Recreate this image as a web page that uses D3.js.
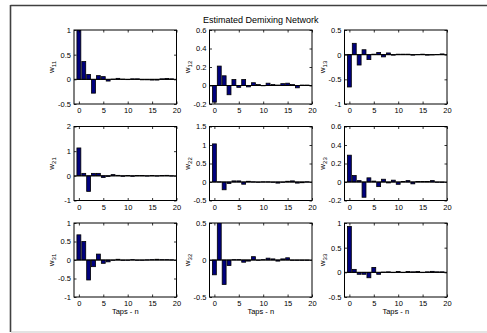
<!DOCTYPE html>
<html><head><meta charset="utf-8">
<script src="https://cdn.jsdelivr.net/npm/d3@7"></script>
<style>
body{margin:0;background:#fff}
svg{display:block}
text{font-family:Arial,"Liberation Sans",Helvetica,sans-serif;fill:#000}
</style>
</head><body>
<svg id="c" width="487" height="333"></svg>
<script>
// ---- data ----
const taps = [0,1,2,3,4,5,6,7,8,9,10,11,12,13,14,15,16,17,18,19];
const w11 = [1.0,0.36,0.10,-0.28,0.075,0.055,-0.035,0.005,0.02,0.005,-0.005,0.01,0.01,-0.01,-0.01,-0.015,-0.015,0.01,0.015,0.01];
const w12 = [-0.18,0.21,0.105,-0.10,0.065,-0.02,0.065,-0.015,0.03,0.01,0.0,0.025,0.01,0.005,0.02,0.025,0.01,-0.025,0.005,0.005];
const w13 = [-0.655,0.23,-0.21,0.10,-0.10,0.01,0.045,-0.045,0.035,-0.01,0.01,0.01,0.01,-0.01,0.005,0.01,-0.01,-0.005,0.005,0.015];
const w21 = [1.13,0.10,-0.63,0.10,0.10,-0.07,-0.03,0.05,0.02,-0.02,0.01,-0.02,0.01,0.01,-0.01,0.01,-0.01,0.01,0.02,-0.01];
const w22 = [1.03,0.005,-0.21,-0.04,0.03,0.03,-0.06,0.02,0.005,0.0,0.005,0.005,0.0,-0.03,0.0,0.02,0.03,-0.03,-0.02,0.005];
const w23 = [0.29,0.07,0.015,-0.165,0.045,0.01,-0.05,0.03,-0.01,0.02,-0.025,0.005,0.015,-0.02,0.005,0.005,0.005,0.015,0.0,-0.005];
const w31 = [0.68,0.50,-0.54,-0.18,0.16,-0.09,-0.05,0.0,0.02,-0.01,0.0,0.01,0.0,-0.005,0.005,0.01,0.02,0.01,0.01,0.005];
const w32 = [-0.20,0.52,-0.33,-0.075,0.005,0.005,-0.03,-0.015,0.045,0.0,0.005,0.025,0.015,-0.015,0.015,0.03,-0.005,-0.005,-0.005,-0.005];
const w33 = [0.93,0.06,-0.04,-0.04,-0.11,0.10,-0.04,0.005,0.01,0.0,0.015,-0.005,0.015,0.01,0.015,-0.005,0.01,0.02,0.01,0.01];

const seriesValues = [w11,w12,w13,w21,w22,w23,w31,w32,w33];
const seriesSubscripts = ["11","12","13","21","22","23","31","32","33"];
const yDomains = [[-0.5,1],[-0.2,0.6],[-1,0.5],[-1,2],[-0.5,1.5],[-0.2,0.6],[-1,1],[-0.5,0.5],[-0.5,1]];
const yTickValues = [
  [-0.5,0,0.5,1],[-0.2,0,0.2,0.4,0.6],[-1,-0.5,0,0.5],
  [-1,0,1,2],[-0.5,0,0.5,1,1.5],[-0.2,0,0.2,0.4,0.6],
  [-1,-0.5,0,0.5,1],[-0.5,0,0.5],[-0.5,0,0.5,1]
];
const xTickValues = [0,5,10,15,20];
const titleText = "Estimated Demixing Network";
const xLabelText = "Taps - n";

// ---- layout ----
const colLeft = [74, 209.5, 344.5];
const rowTop = [30, 126.5, 223];
const W = 102.5, H = 74;
const svg = d3.select("#c");

// outer frame
svg.append("line").attr("x1",10.5).attr("x2",487).attr("y1",5.5).attr("y2",5.5).attr("stroke","#404040").attr("stroke-width",1.6);
svg.append("line").attr("x1",10.5).attr("x2",10.5).attr("y1",5).attr("y2",332).attr("stroke","#404040").attr("stroke-width",1.6);
svg.append("line").attr("x1",11).attr("x2",487).attr("y1",332).attr("y2",332).attr("stroke","#c8c8c8").attr("stroke-width",1.2);

const fmt = v => String(v);
const tick = 2.5;

seriesValues.forEach((vals, k) => {
  const r = Math.floor(k/3), c = k%3;
  const g = svg.append("g").attr("transform", `translate(${colLeft[c]},${rowTop[r]})`);
  const x = d3.scaleLinear().domain([-1,20]).range([0,W]);
  const y = d3.scaleLinear().domain(yDomains[k]).range([H,0]);

  const cid = "clip"+k;
  g.append("clipPath").attr("id",cid).append("rect").attr("width",W).attr("height",H);
  const plot = g.append("g").attr("clip-path",`url(#${cid})`);

  plot.selectAll("rect.bar").data(taps).join("rect")
    .attr("class","bar")
    .attr("x", t => x(t-0.4))
    .attr("width", x(0.8)-x(0))
    .attr("y", (t,i) => y(Math.max(0,vals[i])))
    .attr("height", (t,i) => Math.max(0.3, Math.abs(y(vals[i])-y(0))))
    .attr("fill","#00007e")
    .attr("stroke","#000")
    .attr("stroke-width",0.8);

  plot.append("line").attr("x1",0).attr("x2",W).attr("y1",y(0)).attr("y2",y(0))
    .attr("stroke","#000").attr("stroke-width",1);

  // axes
  const axL = d3.axisLeft(y).tickValues(yTickValues[k]).tickFormat(fmt).tickSizeInner(-tick).tickSizeOuter(0).tickPadding(3);
  const axR = d3.axisRight(y).tickValues(yTickValues[k]).tickFormat("").tickSizeInner(-tick).tickSizeOuter(0);
  const axB = d3.axisBottom(x).tickValues(xTickValues).tickFormat(fmt).tickSizeInner(-tick).tickSizeOuter(0).tickPadding(4);
  const axT = d3.axisTop(x).tickValues(xTickValues).tickFormat("").tickSizeInner(-tick).tickSizeOuter(0);

  const gl = g.append("g").call(axL);
  const gr = g.append("g").attr("transform",`translate(${W},0)`).call(axR);
  const gb = g.append("g").attr("transform",`translate(0,${H})`).call(axB);
  const gt = g.append("g").call(axT);
  [gl,gr,gb,gt].forEach(a => {
    a.select(".domain").remove();
    a.selectAll("line").attr("stroke","#000").attr("stroke-width",0.8);
    a.selectAll("text").attr("font-size",7.5).attr("font-family","Arial, 'Liberation Sans', sans-serif").attr("fill","#000");
  });

  g.append("rect").attr("width",W).attr("height",H).attr("fill","none").attr("stroke","#000").attr("stroke-width",1);

  // y label
  const yl = g.append("text")
    .attr("transform",`translate(-20,${H/2}) rotate(-90)`)
    .attr("text-anchor","middle")
    .attr("font-size",8);
  yl.append("tspan").text("w");
  yl.append("tspan").attr("font-size",6).attr("dy",2).text(seriesSubscripts[k]);

  if (r === 2) {
    g.append("text").attr("x",W/2).attr("y",H+17).attr("text-anchor","middle")
      .attr("font-size",7.5).text(xLabelText);
  }
  if (k === 1) {
    g.append("text").attr("x",W/2).attr("y",-7).attr("text-anchor","middle")
      .attr("font-size",9).text(titleText);
  }
});
</script>
</body></html>
